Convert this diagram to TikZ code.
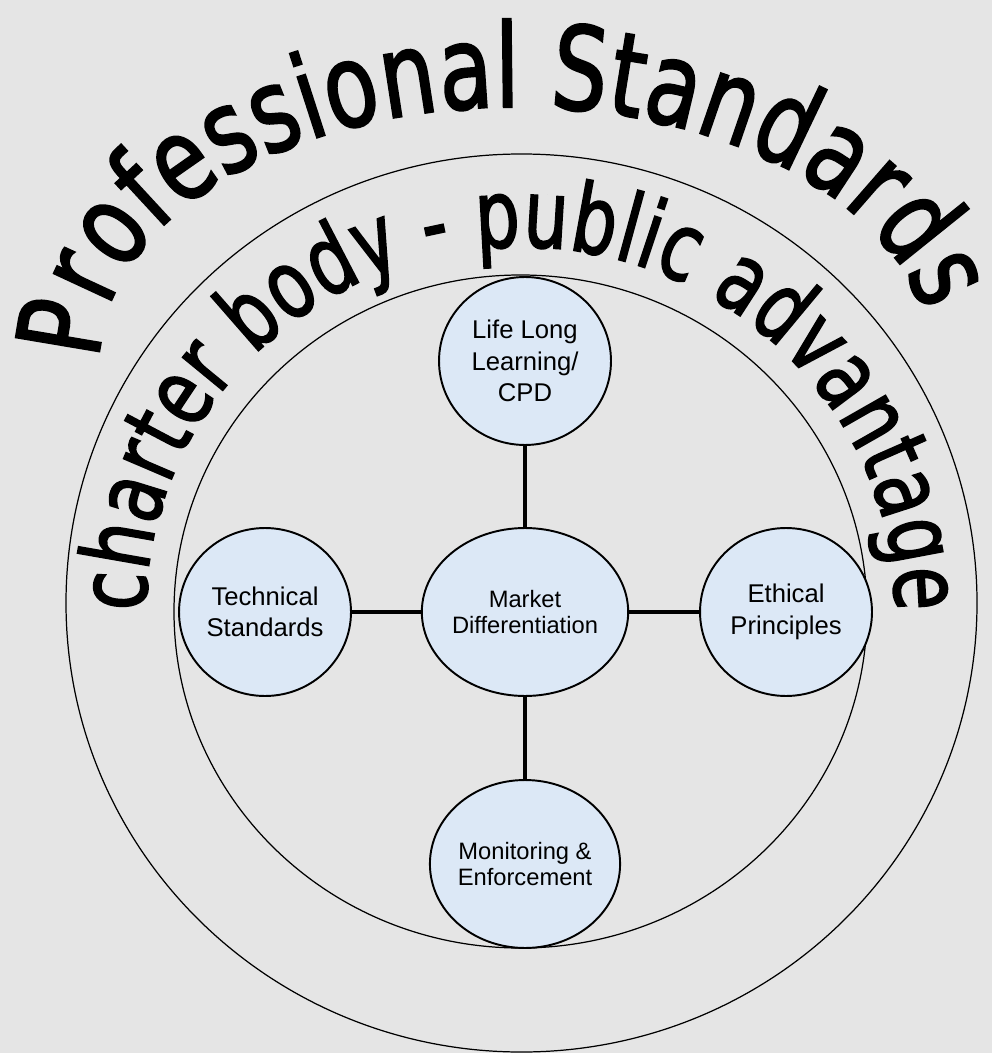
\documentclass[tikz,border=0pt]{standalone}
\usepackage{fontspec}
\setmainfont{Liberation Sans}
\newfontfamily\archfont[FakeStretch=0.75,FakeBold=1.8]{DejaVu Sans}
\newfontfamily\bandfont[FakeStretch=0.74,FakeBold=1.8]{DejaVu Sans}
\usetikzlibrary{shapes.geometric}
\usetikzlibrary{decorations.text}
\definecolor{pagegray}{RGB}{229,229,229}
\definecolor{bubblefill}{RGB}{220,232,246}

\begin{document}
\begin{tikzpicture}[x=0.02cm,y=0.02cm,
    bubble/.style={draw,ellipse,line width=1.1pt,fill=bubblefill,inner sep=0pt,
      minimum width=3.44cm,minimum height=3.36cm,align=center,
      font=\fontsize{14.6}{18}\selectfont},
    tight/.style={font=\fontsize{13.5}{15}\selectfont},
    link/.style={line width=2.3pt},
    ring/.style={line width=0.7pt}]

  \fill[pagegray] (0,0) rectangle (992,-1053);

  % the two rings
  \draw[ring] (521.5,-603) ellipse[x radius=455.5,y radius=449];
  \draw[ring] (520.5,-611.5) ellipse[x radius=346.5,y radius=336.5];

  % arched titles
  \path[decorate,decoration={text along path,text align={fit to path},
      text={|\archfont\fontsize{66}{70}\selectfont|Professional Standards}}]
    (100,-360) arc[start angle=180,end angle=10.7,x radius=415,y radius=253];
  \path[decorate,decoration={text along path,text align={fit to path},
      text={|\bandfont\fontsize{54}{58}\selectfont|charter body - public advantage}}]
    (146,-611.5) arc[start angle=180,end angle=0,x radius=374.5,y radius=364.5];

  % bubbles
  \node[bubble,tight] (mkt) at (525,-612) {Market\\Differentiation};
  \node[bubble] (life) at (525,-361) {Life Long\\Learning/\\CPD};
  \node[bubble] (tech) at (265,-612) {Technical\\Standards};
  \node[bubble] (eth) at (786,-612) {Ethical\\Principles};
  \node[bubble,tight] (mon) at (525,-864) {Monitoring \&\\Enforcement};

  \foreach \n in {life,tech,eth,mon}
    \draw[link] (mkt) -- (\n);
\end{tikzpicture}
\end{document}
